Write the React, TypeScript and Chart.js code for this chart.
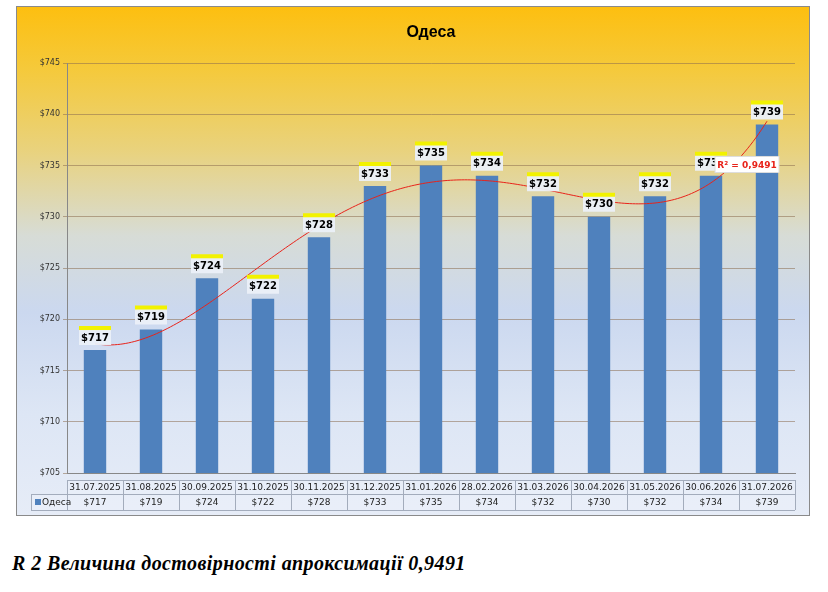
import React, { useEffect, useRef } from "react";
import { Chart, registerables } from "chart.js";
Chart.register(...registerables);

const categories = ["31.07.2025","31.08.2025","30.09.2025","31.10.2025","30.11.2025","31.12.2025","31.01.2026","28.02.2026","31.03.2026","30.04.2026","31.05.2026","30.06.2026","31.07.2026"];
const values = [717,719,724,722,728,733,735,734,732,730,732,734,739];
const seriesName = "Одеса";
const r2Text = "R² = 0,9491";

function polyFit(ys: number[], deg: number) {
  const n = ys.length, c = (n - 1) / 2, s = c;
  const xs = ys.map((_, i) => (i - c) / s);
  const m = deg + 1;
  const A: number[][] = Array.from({ length: m }, () => new Array(m + 1).fill(0));
  for (let k = 0; k < n; k++) {
    for (let i = 0; i < m; i++) {
      for (let j = 0; j < m; j++) A[i][j] += Math.pow(xs[k], i + j);
      A[i][m] += ys[k] * Math.pow(xs[k], i);
    }
  }
  for (let i = 0; i < m; i++) {
    let p = i;
    for (let r = i + 1; r < m; r++) if (Math.abs(A[r][i]) > Math.abs(A[p][i])) p = r;
    [A[i], A[p]] = [A[p], A[i]];
    for (let r = 0; r < m; r++) if (r !== i) {
      const f = A[r][i] / A[i][i];
      for (let j = i; j <= m; j++) A[r][j] -= f * A[i][j];
    }
  }
  const coef = A.map((row, i) => row[m] / row[i]);
  return (x: number) => { const t = (x - c) / s; return coef.reduce((a, b, i) => a + b * Math.pow(t, i), 0); };
}

const extras = {
  id: "extras",
  afterDatasetsDraw(chart: any) {
    const ctx = chart.ctx, xs = chart.scales.x, ys = chart.scales.y, area = chart.chartArea;
    ctx.save();
    ctx.fillStyle = "#000";
    ctx.font = "bold 16px 'Liberation Sans', Arial";
    ctx.textAlign = "center"; ctx.textBaseline = "middle";
    ctx.fillText("Одеса", (area.left + area.right) / 2, 26);
    const f = polyFit(values, 4);
    ctx.beginPath();
    ctx.strokeStyle = "#e8231a"; ctx.lineWidth = 1;
    for (let t = 0; t <= (values.length - 1) * 20; t++) {
      const x = t / 20;
      const px = xs.getPixelForValue(x), py = ys.getPixelForValue(f(x));
      if (t === 0) ctx.moveTo(px, py); else ctx.lineTo(px, py);
    }
    ctx.stroke();
    ctx.font = "bold 10px 'DejaVu Sans', Arial";
    const meta = chart.getDatasetMeta(0);
    meta.data.forEach((bar: any, i: number) => {
      const txt = "$" + values[i];
      const cx = bar.x, top = bar.y - 20;
      ctx.fillStyle = "#f2f200"; ctx.fillRect(cx - 16, top - 4, 32, 5);
      ctx.fillStyle = "rgba(235,240,248,0.95)"; ctx.fillRect(cx - 16, top, 32, 15);
      ctx.fillStyle = "#000"; ctx.fillText(txt, cx, top + 8);
    });
    const rx = xs.getPixelForValue(11) + 4, ry = ys.getPixelForValue(735.1);
    ctx.fillStyle = "#fff"; ctx.fillRect(rx, ry - 8, 64, 16);
    ctx.strokeStyle = "#ddd"; ctx.strokeRect(rx, ry - 8, 64, 16);
    ctx.fillStyle = "#e8231a"; ctx.font = "bold 9px 'DejaVu Sans', Arial";
    ctx.fillText(r2Text, rx + 32, ry + 1);
    const t1 = area.bottom + 7, h1 = 14, h2 = 16, legL = 14;
    const edges = categories.map((_, i) => xs.getPixelForValue(i - 0.5));
    edges.push(xs.getPixelForValue(categories.length - 0.5));
    ctx.strokeStyle = "#a3acbc"; ctx.lineWidth = 1;
    ctx.fillStyle = "rgba(235,240,250,0.6)";
    ctx.fillRect(area.left, t1, area.right - area.left, h1 + h2);
    ctx.fillRect(legL, t1 + h1, area.left - legL, h2);
    ctx.beginPath();
    ctx.moveTo(area.left, t1 + 0.5); ctx.lineTo(area.right, t1 + 0.5);
    ctx.moveTo(legL, t1 + h1 + 0.5); ctx.lineTo(area.right, t1 + h1 + 0.5);
    ctx.moveTo(legL, t1 + h1 + h2 + 0.5); ctx.lineTo(area.right, t1 + h1 + h2 + 0.5);
    ctx.moveTo(legL + 0.5, t1 + h1); ctx.lineTo(legL + 0.5, t1 + h1 + h2);
    edges.forEach((e: number) => { ctx.moveTo(Math.round(e) + 0.5, t1); ctx.lineTo(Math.round(e) + 0.5, t1 + h1 + h2); });
    ctx.stroke();
    ctx.font = "9px 'DejaVu Sans', Arial";
    ctx.fillStyle = "#222";
    categories.forEach((c, i) => {
      const cx = xs.getPixelForValue(i);
      ctx.fillText(c, cx, t1 + h1 / 2 + 1);
      ctx.fillText("$" + values[i], cx, t1 + h1 + h2 / 2 + 1);
    });
    ctx.fillStyle = "#4F81BD"; ctx.fillRect(legL + 4, t1 + h1 + 5, 6, 6);
    ctx.fillStyle = "#222"; ctx.textAlign = "left";
    ctx.fillText(seriesName, legL + 11, t1 + h1 + h2 / 2 + 1);
    ctx.restore();
  },
};

export default function App() {
  const ref = useRef<HTMLCanvasElement>(null);
  useEffect(() => {
    const chart = new Chart(ref.current!, {
      type: "bar",
      data: { labels: categories, datasets: [{ label: seriesName, data: values, backgroundColor: "#4F81BD", barPercentage: 0.4, categoryPercentage: 1 }] },
      options: {
        animation: false, responsive: false,
        layout: { padding: { top: 56, right: 14, bottom: 42, left: 0 } },
        plugins: { legend: { display: false }, tooltip: { enabled: false }, title: { display: false } },
        scales: {
          x: { ticks: { display: false }, grid: { display: false }, border: { color: "#888" }, afterFit: (s: any) => { s.height = 0; } },
          y: {
            min: 705, max: 745,
            ticks: { stepSize: 5, color: "#333", font: { size: 8, family: "'DejaVu Sans', Arial" }, callback: (v: any) => "$" + v },
            grid: { color: "rgba(140,110,80,0.55)", tickLength: 4 },
            border: { color: "#888" },
            afterFit: (s: any) => { s.width = 50; },
          },
        },
      },
      plugins: [extras],
    });
    return () => chart.destroy();
  }, []);
  return (
    <div>
      <div style={{ position: "absolute", left: 16, top: 6, width: 792, height: 508, border: "1px solid #8a8a8a",
        background: "linear-gradient(to bottom, #fdbf10 0%, #f5c93a 12%, #e9d27c 28%, #d7dcd6 45%, #cbd8ef 60%, #dde6f5 80%, #e6ecf7 100%)" }}>
        <canvas ref={ref} width={792} height={508} />
      </div>
      <div style={{ position: "absolute", left: 12, top: 552, font: "bold italic 20px 'Liberation Serif', 'Times New Roman', serif", letterSpacing: "0.4px", color: "#000" }}>
        R 2 Величина достовірності апроксимації 0,9491
      </div>
    </div>
  );
}
